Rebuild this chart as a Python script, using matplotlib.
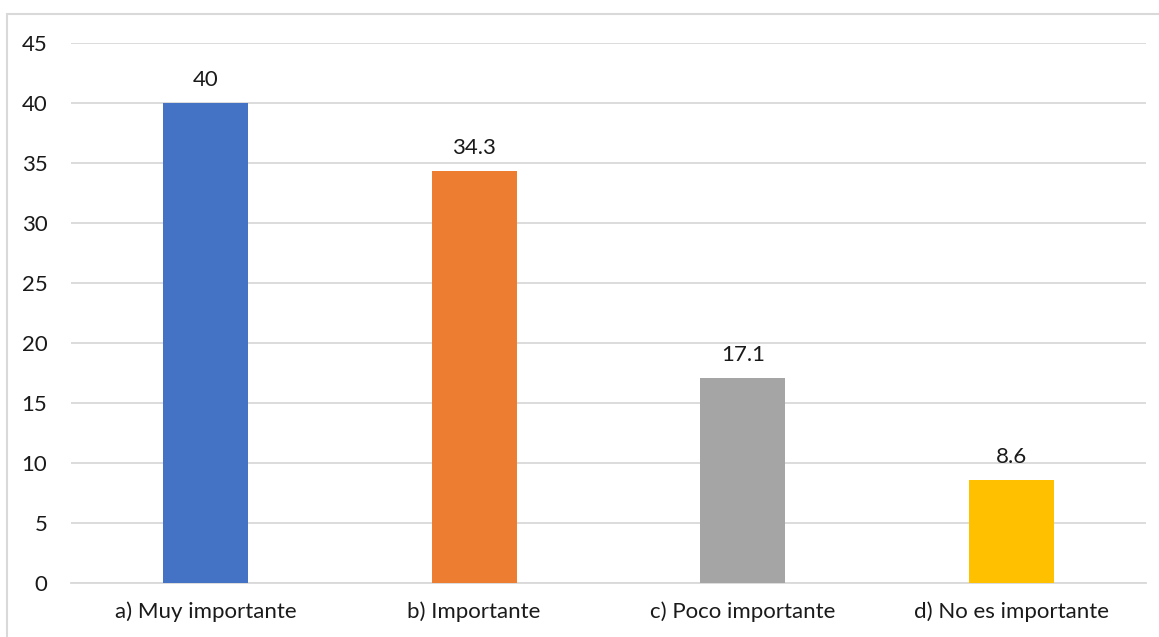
import matplotlib.pyplot as plt
from matplotlib.patches import Rectangle

categories = ["a) Muy importante", "b) Importante", "c) Poco importante", "d) No es importante"]
values = [40, 34.3, 17.1, 8.6]
colors = ["#4472C4", "#ED7D31", "#A5A5A5", "#FFC000"]
yticks = [0, 5, 10, 15, 20, 25, 30, 35, 40, 45]

plt.rcParams["font.family"] = ["Lato", "DejaVu Sans"]

W, H = 1159, 637
fig = plt.figure(figsize=(W / 100, H / 100), dpi=100)
ax = fig.add_axes([71 / W, (H - 583) / H, (1146 - 71) / W, (583 - 43) / H])

x = list(range(len(categories)))
bars = ax.bar(x, values, width=0.316, color=colors, zorder=3)
for b, v in zip(bars, values):
    ax.text(b.get_x() + b.get_width() / 2, v + 1.1, f"{v:g}",
            ha="center", va="bottom", fontsize=16, color="#1a1a1a")

ax.set_xlim(-0.5, len(categories) - 0.5)
ax.set_ylim(0, 45)
ax.set_yticks(yticks)
ax.set_xticks(x)
ax.set_xticklabels(categories)
ax.tick_params(axis="both", length=0, labelsize=16, labelcolor="#1a1a1a")
ax.tick_params(axis="y", pad=17)
ax.tick_params(axis="x", pad=13)
ax.grid(axis="y", color="#D9D9D9", linewidth=1.3, zorder=0)
for s in ["top", "right", "left"]:
    ax.spines[s].set_visible(False)
ax.spines["bottom"].set_color("#D9D9D9")
ax.spines["bottom"].set_linewidth(1.3)

# outer chart border (partly cut off on right and bottom)
fig.patches.append(Rectangle((6.5 / W, -0.1), 1.2, (H - 13.5) / H + 0.1,
                             transform=fig.transFigure, fill=False,
                             edgecolor="#D9D9D9", linewidth=1.5))

fig.savefig("out.png", dpi=100)
